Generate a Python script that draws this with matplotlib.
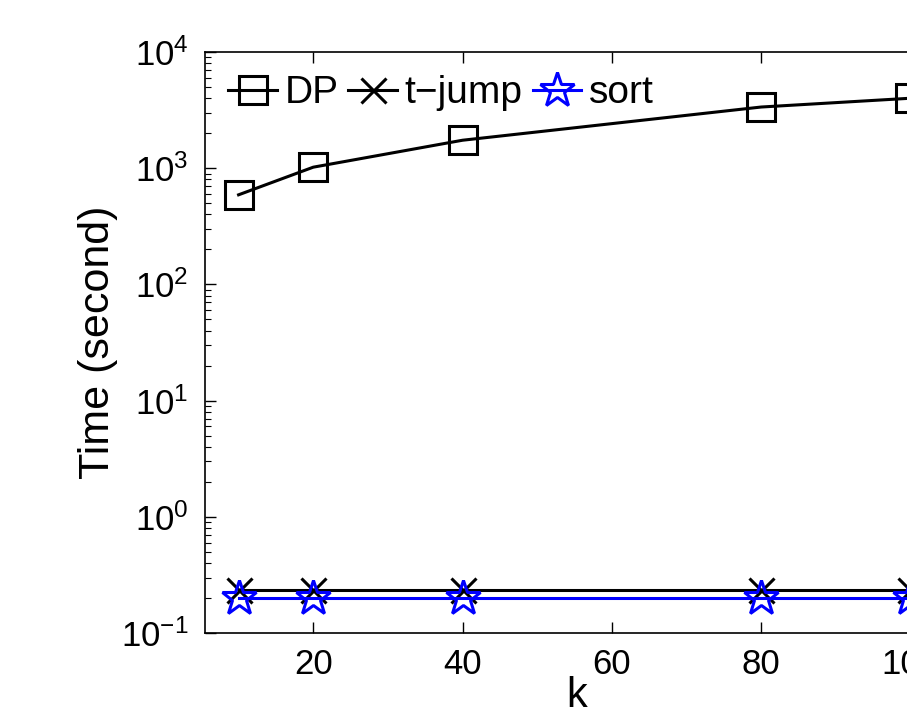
import matplotlib.pyplot as plt
from matplotlib.ticker import LogLocator, FixedLocator

k = [10, 20, 40, 80, 100]
dp = [590, 1020, 1740, 3360, 4000]
tjump = [0.234, 0.234, 0.234, 0.234, 0.234]
sort_t = [0.20, 0.20, 0.20, 0.20, 0.20]
xticks = [20, 40, 60, 80, 100]

plt.rcParams['font.family'] = ['Liberation Sans', 'DejaVu Sans']
plt.rcParams['mathtext.fontset'] = 'custom'
plt.rcParams['mathtext.rm'] = 'Liberation Sans'

fig = plt.figure(figsize=(9.07, 7.24), dpi=100)
ax = fig.add_axes([0.226, 0.1257, 0.819, 0.8025])

ax.plot(k, dp, color='k', lw=2.2, marker='s', ms=20, mfc='none', mew=2.2, label='DP')
ax.plot(k, tjump, color='k', lw=2.2, marker='x', ms=18, mew=2.2, label='t\u2212jump')
ax.plot(k, sort_t, color='b', lw=2.2, marker='*', ms=26, mfc='none', mew=2.2, label='sort')

ax.set_yscale('log')
ax.set_ylim(1e-1, 1e4)
ax.set_xlim(5.5, 105)
ax.xaxis.set_major_locator(FixedLocator(xticks))
ax.yaxis.set_major_locator(LogLocator(base=10, numticks=10))
ax.yaxis.set_minor_locator(LogLocator(base=10, subs=range(2, 10), numticks=20))
ax.tick_params(which='both', direction='in', top=True, right=True, labelsize=25)
ax.tick_params(which='major', length=8, width=1)
ax.tick_params(which='minor', length=4, width=0.8)
ax.tick_params(axis='x', pad=11)
ax.tick_params(axis='y', pad=12)
for s in ax.spines.values():
    s.set_linewidth(1.2)

ax.set_xlabel('k', fontsize=30, labelpad=-4)
ax.set_ylabel('Time (second)', fontsize=31, labelpad=2)

ax.legend(loc='upper left', ncol=3, frameon=False, fontsize=28,
          handlelength=1.25, handletextpad=0.2, columnspacing=0.25,
          borderaxespad=0.2, bbox_to_anchor=(0.0, 1.0))

fig.savefig('out.png', dpi=100)
